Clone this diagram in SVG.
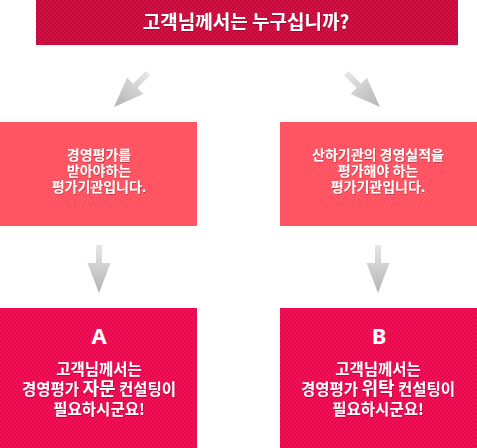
<svg xmlns="http://www.w3.org/2000/svg" width="477" height="448" viewBox="0 0 477 448">
  <style>
    .t { font-family: "Noto Sans CJK KR", "Noto Sans", sans-serif; font-weight: bold; fill: #ffffff; text-anchor: middle; filter: url(#sh); }
    .top { font-size: 19px; }
    .mid { font-size: 14px; }
    .bot { font-size: 15.5px; }
    .em { font-size: 18px; }
    .let { font-family: "Noto Sans", "Liberation Sans", sans-serif; font-size: 22px; font-weight: bold; fill: #ffffff; text-anchor: middle; }
  </style>
  <defs>
    <pattern id="stripes" width="4" height="4" patternUnits="userSpaceOnUse">
      <path d="M-1,1 L1,-1 M0,4 L4,0 M3,5 L5,3" stroke="#ffffff" stroke-opacity="0.09" stroke-width="1"/>
    </pattern>
    <linearGradient id="ag" x1="0" y1="0" x2="0" y2="1">
      <stop offset="0" stop-color="#e6e6e6"/>
      <stop offset="1" stop-color="#b4b4b4"/>
    </linearGradient>
    <path id="arrow" d="M-3,-48 L3,-48 L3,-30 L11.5,-30 L0,0 L-11.5,-30 L-3,-30 Z" fill="url(#ag)"/>
    <filter id="sh" x="-10%" y="-30%" width="120%" height="160%">
      <feDropShadow dx="0.6" dy="0.8" stdDeviation="0.6" flood-color="#000000" flood-opacity="0.3"/>
    </filter>
  </defs>

  <g id="connectors">
    <use href="#arrow" transform="translate(114,107) rotate(45)"/>
    <use href="#arrow" transform="translate(380,107) rotate(-45)"/>
    <use href="#arrow" transform="translate(99,293)"/>
    <use href="#arrow" transform="translate(378,293)"/>
  </g>

  <g id="question">
    <rect x="36" y="0" width="422" height="45" fill="#c70a3c"/>
    <rect x="36" y="0" width="422" height="45" fill="url(#stripes)"/>
    <text class="t top" x="246" y="29">고객님께서는 누구십니까?</text>
  </g>

  <g id="evaluator-left">
    <rect x="0" y="122" width="197" height="104" fill="#ff5260"/>
    <rect x="0" y="122" width="197" height="104" fill="url(#stripes)"/>
    <text class="t mid" x="99" y="160">경영평가를</text>
    <text class="t mid" x="99" y="176">받아야하는</text>
    <text class="t mid" x="99" y="192">평가기관입니다.</text>
  </g>

  <g id="evaluator-right">
    <rect x="280" y="122" width="197" height="104" fill="#ff5260"/>
    <rect x="280" y="122" width="197" height="104" fill="url(#stripes)"/>
    <text class="t mid" x="378" y="160">산하기관의 경영실적을</text>
    <text class="t mid" x="378" y="176">평가해야 하는</text>
    <text class="t mid" x="378" y="192">평가기관입니다.</text>
  </g>

  <g id="answer-a">
    <rect x="0" y="308" width="197" height="140" fill="#e8094f"/>
    <rect x="0" y="308" width="197" height="140" fill="url(#stripes)"/>
    <text class="let" x="99" y="344">A</text>
    <text class="t bot" x="99" y="375">고객님께서는</text>
    <text class="t bot" x="99" y="395">경영평가 <tspan class="em">자문</tspan> 컨설팅이</text>
    <text class="t bot" x="99" y="415">필요하시군요!</text>
  </g>

  <g id="answer-b">
    <rect x="280" y="308" width="197" height="140" fill="#e8094f"/>
    <rect x="280" y="308" width="197" height="140" fill="url(#stripes)"/>
    <text class="let" x="379" y="344">B</text>
    <text class="t bot" x="378" y="375">고객님께서는</text>
    <text class="t bot" x="378" y="395">경영평가 <tspan class="em">위탁</tspan> 컨설팅이</text>
    <text class="t bot" x="378" y="415">필요하시군요!</text>
  </g>
</svg>
